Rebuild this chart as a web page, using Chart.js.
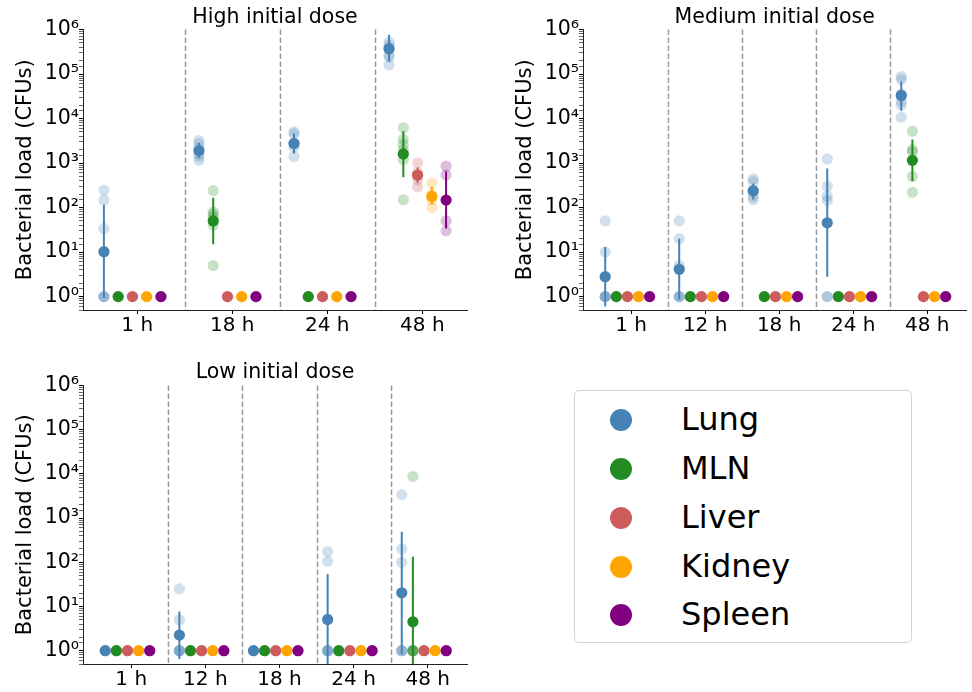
<!DOCTYPE html>
<html>
<head>
<meta charset="utf-8">
<script src="https://cdn.jsdelivr.net/npm/chart.js@4/dist/chart.umd.min.js"></script>
<style>
  body { margin: 0; background: #fff; width: 972px; height: 692px; position: relative; overflow: hidden; font-family: 'DejaVu Sans', sans-serif; }
  canvas { position: absolute; }
  #legend { position: absolute; left: 574px; top: 390px; width: 336px; height: 251px; border: 1px solid #d2d2d2; border-radius: 5px; }
  .lg-dot { position: absolute; width: 22px; height: 22px; border-radius: 50%; }
  .lg-txt { position: absolute; height: 40px; line-height: 40px; font-size: 32px; color: #000; white-space: nowrap; }
</style>
</head>
<body>
<canvas id="chartHigh" width="480" height="345" style="left:0;top:0"></canvas>
<canvas id="chartMedium" width="472" height="345" style="left:500px;top:0"></canvas>
<canvas id="chartLow" width="480" height="342" style="left:0;top:350px"></canvas>
<div id="legend"></div>

<script>
// Bacterial load per organ - three dose panels

const ORGANS = ['Lung', 'MLN', 'Liver', 'Kidney', 'Spleen'];
const COLORS = ['#4682b4', '#228b22', '#cd5c5c', '#ffa500', '#800080'];

// High initial dose (rows = organs, cols = time points)
const highTimes = ['1 h', '18 h', '24 h', '48 h'];
const highMean = [
  [10.2, 1900, 2750, 3.7e5],
  [1, 50, 1, 1600],
  [1, 1, 1, 535],
  [1, 1, 1, 178],
  [1, 1, 1, 147],
];
const highLo = [
  [0.93, 1310, 1630, 1.9e5],
  [null, 14.9, null, 480],
  [null, null, null, 363],
  [null, null, null, 117],
  [null, null, null, 34],
];
const highHi = [
  [115, 2830, 4600, 7.6e5],
  [null, 166, null, 5150],
  [null, null, null, 780],
  [null, null, null, 294],
  [null, null, null, 650],
];
const highRaw = [
  [[245, 147, 34, 1, 1, 1], [3200, 2700, 2200, 1600, 1400, 1150], [5000, 4500, 2800, 2300, 1400], [5.2e5, 4.4e5, 3.8e5, 2.7e5, 2.4e5, 1.6e5]],
  [[1], [240, 80, 70, 60, 40, 5], [1], [6200, 3400, 2600, 2000, 1200, 150]],
  [[1], [1], [1], [1000, 620, 520, 420, 290]],
  [[1], [1], [1], [350, 200, 150, 100]],
  [[1], [1], [1], [850, 540, 50, 30]],
];

// Medium initial dose
const medTimes = ['1 h', '12 h', '18 h', '24 h', '48 h'];
const medMean = [
  [2.8, 4.1, 238, 45.6, 3.3e4],
  [1, 1, 1, 1, 1150],
  [1, 1, 1, 1, 1],
  [1, 1, 1, 1, 1],
  [1, 1, 1, 1, 1],
];
const medLo = [
  [0.6, 0.86, 152, 2.8, 1.5e4],
  [null, null, null, null, 390],
  [null, null, null, null, null],
  [null, null, null, null, null],
  [null, null, null, null, null],
];
const medHi = [
  [13, 20, 347, 755, 6.8e4],
  [null, null, null, null, 3360],
  [null, null, null, null, null],
  [null, null, null, null, null],
  [null, null, null, null, null],
];
const medRaw = [
  [[50, 10, 1, 1, 1, 1], [50, 20, 5, 1, 1, 1], [440, 380, 230, 175, 150], [1240, 300, 180, 145, 1, 1], [8.8e4, 7.5e4, 3.5e4, 2.4e4, 2.0e4, 1.07e4]],
  [[1], [1], [1], [1], [5200, 2000, 1800, 500, 220]],
  [[1], [1], [1], [1], [1]],
  [[1], [1], [1], [1], [1]],
  [[1], [1], [1], [1], [1]],
];

// Low initial dose
const lowTimes = ['1 h', '12 h', '18 h', '24 h', '48 h'];
const lowMean = [
  [1, 2.25, 1, 5.1, 20.4],
  [1, 1, 1, 1, 4.5],
  [1, 1, 1, 1, 1],
  [1, 1, 1, 1, 1],
  [1, 1, 1, 1, 1],
];
const lowLo = [
  [null, 0.65, null, 0.41, 0.83],
  [null, null, null, null, 0.155],
  [null, null, null, null, null],
  [null, null, null, null, null],
  [null, null, null, null, null],
];
const lowHi = [
  [null, 7.7, null, 54, 490],
  [null, null, null, null, 134],
  [null, null, null, null, null],
  [null, null, null, null, null],
  [null, null, null, null, null],
];
const lowRaw = [
  [[1], [25, 5, 1, 1, 1, 1], [1], [175, 105, 1, 1, 1, 1], [3400, 200, 100, 1, 1, 1]],
  [[1], [1], [1], [1], [8700, 1, 1, 1, 1, 1]],
  [[1], [1], [1], [1], [1]],
  [[1], [1], [1], [1], [1]],
  [[1], [1], [1], [1], [1]],
];

const OFFSETS = [-0.35, -0.2, -0.05, 0.1, 0.25];
const SUP = '⁰¹²³⁴⁵⁶⁷⁸⁹';

Chart.defaults.font.family = "'DejaVu Sans', sans-serif";
Chart.defaults.color = '#000';

function rgba(hex, a) {
  const n = parseInt(hex.slice(1), 16);
  return `rgba(${n >> 16}, ${(n >> 8) & 255}, ${n & 255}, ${a})`;
}

function isDecade(v) {
  const e = Math.log10(v);
  return Math.abs(e - Math.round(e)) < 1e-6;
}

function buildDatasets(mean, lo, hi, raw) {
  const sets = [];
  ORGANS.forEach((org, k) => {
    const off = OFFSETS[k];
    const rawPts = [];
    raw[k].forEach((vals, i) => vals.forEach(v => rawPts.push({ x: i + off, y: v })));
    sets.push({
      type: 'scatter', label: org, data: rawPts,
      pointBackgroundColor: rgba(COLORS[k], 0.25), pointBorderWidth: 0, borderWidth: 0, pointRadius: 5.6,
    });
    const bars = [];
    lo[k].forEach((l, i) => {
      if (l == null) return;
      bars.push({ x: i + off, y: l }, { x: i + off, y: hi[k][i] }, { x: i + off, y: null });
    });
    sets.push({
      type: 'line', label: org + ' sd', data: bars,
      borderColor: COLORS[k], borderWidth: 2, pointRadius: 0, spanGaps: false, fill: false, tension: 0,
    });
    sets.push({
      type: 'scatter', label: org + ' mean', data: mean[k].map((m, i) => ({ x: i + off, y: m })),
      pointBackgroundColor: COLORS[k], pointBorderWidth: 0, borderWidth: 0, pointRadius: 5.6,
    });
  });
  // later datasets painted on top
  sets.forEach((s, i) => { s.order = sets.length - i; });
  return sets;
}

const dividerPlugin = {
  id: 'dividers',
  beforeDatasetsDraw(chart, args, opts) {
    const { ctx, chartArea, scales: { x } } = chart;
    ctx.save();
    ctx.strokeStyle = '#9a9a9a';
    ctx.lineWidth = 1.5;
    ctx.setLineDash([5.5, 2.5]);
    opts.at.forEach(v => {
      const px = Math.round(x.getPixelForValue(v)) + 0.5;
      ctx.beginPath();
      ctx.moveTo(px, chartArea.top);
      ctx.lineTo(px, chartArea.bottom);
      ctx.stroke();
    });
    ctx.restore();
  }
};

function makeChart(id, title, times, mean, lo, hi, raw, xRange, box) {
  return new Chart(document.getElementById(id), {
    type: 'scatter',
    data: { datasets: buildDatasets(mean, lo, hi, raw) },
    options: {
      responsive: false,
      animation: false,
      events: [],
      layout: { padding: { top: 0, right: box.right, bottom: 0, left: 0 } },
      plugins: {
        legend: { display: false },
        tooltip: { enabled: false },
        title: {
          display: true, text: title, color: '#000', fullSize: false,
          font: { size: 20.5, weight: 'normal', lineHeight: 1 },
          padding: { top: box.titleTop, bottom: box.titleBottom },
        },
        dividers: { at: times.slice(1).map((_, i) => i + 0.5) },
      },
      scales: {
        x: {
          type: 'linear', min: xRange[0], max: xRange[1],
          afterBuildTicks: s => { s.ticks = times.map((_, i) => ({ value: i })); },
          afterFit: s => { s.height = box.xHeight; },
          ticks: { callback: v => times[v], font: { size: 20 }, color: '#000', padding: 0, maxRotation: 0, autoSkip: false },
          grid: { display: true, drawOnChartArea: false, drawTicks: true, tickLength: 4, color: '#000' },
          border: { display: true, color: '#222', width: 1 },
        },
        y: {
          type: 'logarithmic', min: 0.5, max: 1e6,
          afterFit: s => { s.width = 83; },
          ticks: {
            autoSkip: false, padding: 0, font: { size: 20.5 }, color: '#000',
            callback: v => isDecade(v) ? '10' + SUP[Math.round(Math.log10(v))] : '',
          },
          title: {
            display: true, text: 'Bacterial load (CFUs)', color: '#000',
            font: { size: 21 }, padding: { top: 13, bottom: 0 },
          },
          grid: {
            display: true, drawOnChartArea: false, drawTicks: true, tickLength: 4, color: '#000',
            tickWidth: c => (c.tick && isDecade(c.tick.value)) ? 1 : 0.6,
          },
          border: { display: true, color: '#222', width: 1 },
        },
      },
    },
    plugins: [dividerPlugin],
  });
}

makeChart('chartHigh', 'High initial dose', highTimes, highMean, highLo, highHi, highRaw,
  [-0.57, 3.47], { right: 13, titleTop: 7.5, titleBottom: 1.5, xHeight: 35 });
makeChart('chartMedium', 'Medium initial dose', medTimes, medMean, medLo, medHi, medRaw,
  [-0.65, 4.53], { right: 4, titleTop: 7.5, titleBottom: 1.5, xHeight: 35 });
makeChart('chartLow', 'Low initial dose', lowTimes, lowMean, lowLo, lowHi, lowRaw,
  [-0.65, 4.53], { right: 13, titleTop: 12.5, titleBottom: 2.5, xHeight: 28 });

// Legend box
const legend = document.getElementById('legend');
ORGANS.forEach((org, k) => {
  const cy = 29.3 + k * 48.75;
  const dot = document.createElement('div');
  dot.className = 'lg-dot';
  dot.style.left = '35px';
  dot.style.top = (cy - 11) + 'px';
  dot.style.background = COLORS[k];
  legend.appendChild(dot);
  const txt = document.createElement('div');
  txt.className = 'lg-txt';
  txt.style.left = '106px';
  txt.style.top = (cy - 21) + 'px';
  txt.textContent = org;
  legend.appendChild(txt);
});
</script>
</body>
</html>
